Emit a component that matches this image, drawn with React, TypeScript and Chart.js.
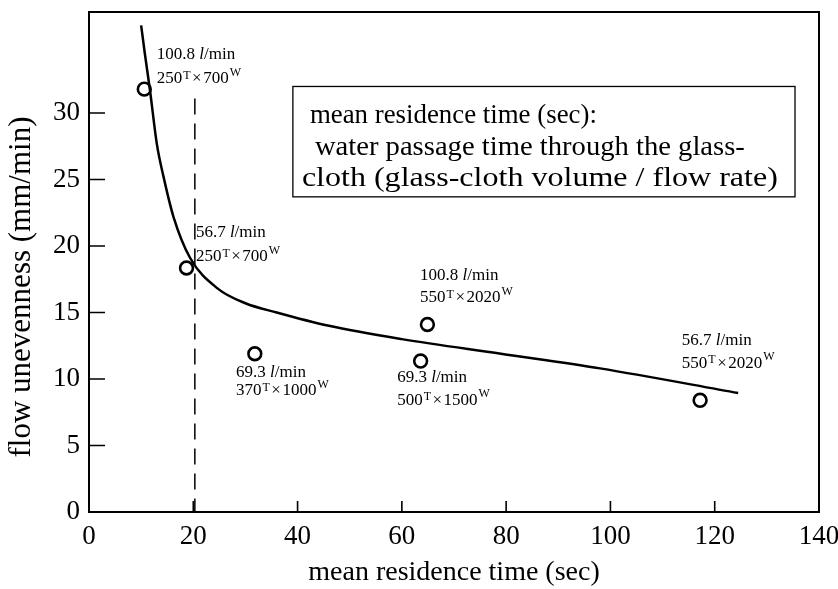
import React, { useEffect, useRef } from 'react';
import { Chart, registerables } from 'chart.js';

Chart.register(...registerables);

const FONT = "'Liberation Serif', 'Times New Roman', Times, serif";

// axis ranges and tick labels
const X_MIN = 0;
const X_MAX = 140;
const X_STEP = 20;
const Y_MIN = 0;
const Y_MAX = 37.6;
const Y_STEP = 5;
const Y_LAST_TICK = 30;

const X_TITLE = 'mean residence time (sec)';
const Y_TITLE = 'flow unevenness (mm/min)';

// measured points (mean residence time, flow unevenness)
const pointX = [10.6, 18.7, 31.8, 63.6, 64.9, 117.2];
const pointY = [31.8, 18.35, 11.9, 11.35, 14.1, 8.4];

// fitted curve
const curveX = [10.0, 10.7, 11.7, 13.0, 14.3, 16.2, 19.4, 24.7, 30.0, 36.0, 46.0, 60.0, 79.0, 98.0, 124.5];
const curveY = [36.6, 34.5, 31.7, 27.7, 25.2, 22.2, 19.1, 16.8, 15.7, 15.0, 14.0, 13.0, 11.9, 10.8, 8.95];

// dashed reference line near 20 sec
const refX = [20.3, 20.3];
const refY = [31.1, 0];

// point annotations
const annFlow = ['100.8', '56.7', '69.3', '100.8', '69.3', '56.7'];
const annT = ['250', '250', '370', '550', '500', '550'];
const annW = ['700', '700', '1000', '2020', '1500', '2020'];
const annX = [13.0, 20.5, 28.2, 63.5, 59.1, 113.7];
const annY1 = [34.4, 21.05, 10.5, 17.8, 10.1, 12.9];
const annY2 = [32.6, 19.2, 9.1, 16.1, 8.4, 11.2];

// explanation box
const boxLines = [
  'mean residence time (sec):',
  'water passage time through the glass-',
  'cloth (glass-cloth volume / flow rate)',
];
const boxX = [39.1, 135.4];
const boxY = [32.0, 23.7];
const boxLineDx = [17, 22, 9];
const boxLineDy = [37, 69, 100];
const boxLineW = [287, 430, 476];

const zeroPad = (s: any) => {
  s.paddingTop = 0;
  s.paddingBottom = 0;
  s.paddingLeft = 0;
  s.paddingRight = 0;
};

const overlayPlugin = {
  id: 'overlay',
  afterDatasetsDraw(chart: any) {
    const { ctx, chartArea: a, scales } = chart;
    const x = scales.x;
    const y = scales.y;
    ctx.save();
    ctx.strokeStyle = '#000';
    ctx.fillStyle = '#000';

    // frame
    ctx.lineWidth = 2;
    ctx.setLineDash([]);
    ctx.strokeRect(a.left, a.top, a.right - a.left, a.bottom - a.top);

    // inward ticks
    ctx.lineWidth = 1.6;
    ctx.beginPath();
    x.ticks.forEach((t: any) => {
      const px = x.getPixelForValue(t.value);
      ctx.moveTo(px, a.bottom);
      ctx.lineTo(px, a.bottom - 11);
    });
    y.ticks.forEach((t: any) => {
      const py = y.getPixelForValue(t.value);
      ctx.moveTo(a.left, py);
      ctx.lineTo(a.left + 16, py);
    });
    ctx.stroke();

    // y title
    ctx.save();
    ctx.font = `31px ${FONT}`;
    ctx.textAlign = 'center';
    ctx.textBaseline = 'middle';
    ctx.translate(22, 287);
    ctx.rotate(-Math.PI / 2);
    ctx.fillText(Y_TITLE, 0, 0);
    ctx.restore();

    // explanation box
    const bx0 = x.getPixelForValue(boxX[0]);
    const bx1 = x.getPixelForValue(boxX[1]);
    const by0 = y.getPixelForValue(boxY[0]);
    const by1 = y.getPixelForValue(boxY[1]);
    ctx.fillStyle = '#fff';
    ctx.fillRect(bx0, by0, bx1 - bx0, by1 - by0);
    ctx.lineWidth = 1.3;
    ctx.strokeRect(bx0, by0, bx1 - bx0, by1 - by0);
    ctx.fillStyle = '#000';
    ctx.font = `28px ${FONT}`;
    ctx.textAlign = 'left';
    ctx.textBaseline = 'alphabetic';
    boxLines.forEach((s, i) => {
      const w = ctx.measureText(s).width;
      const k = boxLineW[i] / w;
      ctx.save();
      ctx.translate(bx0 + boxLineDx[i], by0 + boxLineDy[i]);
      ctx.scale(k, 1);
      ctx.fillText(s, 0, 0);
      ctx.restore();
    });

    // annotations
    const big = `17px ${FONT}`;
    const ital = `italic 17px ${FONT}`;
    const small = `12px ${FONT}`;
    ctx.textBaseline = 'middle';
    annFlow.forEach((flow, i) => {
      const px = x.getPixelForValue(annX[i]);
      const p1 = y.getPixelForValue(annY1[i]);
      const p2 = y.getPixelForValue(annY2[i]);
      let cx = px;
      ctx.font = big;
      ctx.fillText(flow + ' ', cx, p1);
      cx += ctx.measureText(flow + ' ').width;
      ctx.font = ital;
      ctx.fillText('l', cx, p1);
      cx += ctx.measureText('l').width;
      ctx.font = big;
      ctx.fillText('/min', cx, p1);

      cx = px;
      ctx.font = big;
      ctx.fillText(annT[i], cx, p2);
      cx += ctx.measureText(annT[i]).width + 1;
      ctx.font = small;
      ctx.fillText('T', cx, p2 - 3);
      cx += ctx.measureText('T').width + 1.5;
      ctx.font = big;
      ctx.fillText('×', cx, p2);
      cx += ctx.measureText('×').width + 1.5;
      ctx.fillText(annW[i], cx, p2);
      cx += ctx.measureText(annW[i]).width + 1;
      ctx.font = small;
      ctx.fillText('W', cx, p2 - 6);
    });

    ctx.restore();
  },
};

export default function App() {
  const canvasRef = useRef<HTMLCanvasElement | null>(null);

  useEffect(() => {
    const canvas = canvasRef.current;
    if (!canvas) return;
    const curve = curveX.map((v, i) => ({ x: v, y: curveY[i] }));
    const ref = refX.map((v, i) => ({ x: v, y: refY[i] }));
    const pts = pointX.map((v, i) => ({ x: v, y: pointY[i] }));

    const chart = new Chart(canvas, {
      type: 'scatter',
      data: {
        datasets: [
          {
            data: curve,
            showLine: true,
            borderColor: '#000',
            borderWidth: 2.5,
            pointRadius: 0,
            cubicInterpolationMode: 'monotone',
            fill: false,
          },
          {
            data: ref,
            showLine: true,
            borderColor: '#000',
            borderWidth: 1.5,
            borderDash: [16, 9],
            pointRadius: 0,
            fill: false,
          },
          {
            data: pts,
            showLine: false,
            pointRadius: 6.4,
            pointBorderWidth: 2.6,
            pointBorderColor: '#000',
            pointBackgroundColor: '#fff',
          },
        ],
      },
      options: {
        responsive: false,
        animation: false,
        events: [],
        layout: { autoPadding: false, padding: { left: 0, top: 12, right: 19, bottom: 0 } },
        plugins: {
          legend: { display: false },
          tooltip: { enabled: false },
        },
        scales: {
          x: {
            type: 'linear',
            min: X_MIN,
            max: X_MAX,
            grid: { display: false, drawTicks: false },
            border: { display: false },
            ticks: {
              stepSize: X_STEP,
              autoSkip: false,
              maxRotation: 0,
              padding: 9,
              color: '#000',
              font: { family: FONT, size: 27 },
            },
            title: {
              display: true,
              text: X_TITLE,
              color: '#000',
              font: { family: FONT, size: 28 },
              padding: { top: 0, bottom: 0 },
            },
            afterFit: (s: any) => {
              s.height = 77;
              zeroPad(s);
            },
          },
          y: {
            type: 'linear',
            min: Y_MIN,
            max: Y_MAX,
            grid: { display: false, drawTicks: false },
            border: { display: false },
            ticks: {
              stepSize: Y_STEP,
              includeBounds: false,
              autoSkip: false,
              padding: 9,
              color: '#000',
              font: { family: FONT, size: 27 },
            },
            afterBuildTicks: (s: any) => {
              s.ticks = s.ticks.filter((t: any) => t.value <= Y_LAST_TICK);
            },
            afterFit: (s: any) => {
              s.width = 89;
              zeroPad(s);
            },
          },
        },
      },
      plugins: [overlayPlugin],
    });
    return () => chart.destroy();
  }, []);

  return (
    <div style={{ position: 'fixed', left: 0, top: 0, width: 838, height: 589, background: '#fff' }}>
      <canvas ref={canvasRef} width={838} height={589} style={{ display: 'block' }} />
    </div>
  );
}
